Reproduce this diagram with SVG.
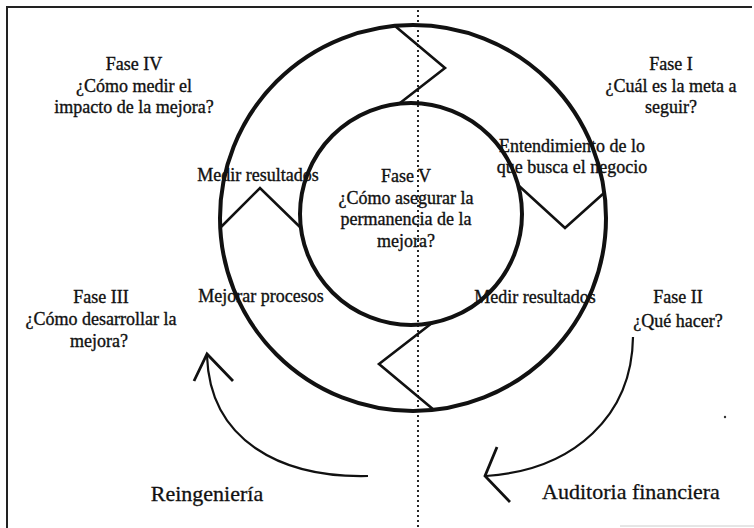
<svg xmlns="http://www.w3.org/2000/svg" width="754" height="528" viewBox="0 0 754 528">
<style>
  text { font-family: "Liberation Serif", "Times New Roman", serif; fill: #111; stroke: #111; stroke-width: 0.35; text-anchor: middle; }
  .t { font-size: 18px; }
  .h { font-weight: bold; stroke-width: 0; }
  .big { font-size: 22px; stroke-width: 0.3; }
  .ring { fill: none; stroke: #111; stroke-width: 4; }
  .zig { fill: none; stroke: #111; stroke-width: 2.6; stroke-linejoin: miter; }
  .arr { fill: none; stroke: #111; stroke-width: 2.2; }
  .head { fill: none; stroke: #111; stroke-width: 2.8; stroke-linejoin: miter; }
</style>
<rect width="754" height="528" fill="#fff"/>
<g id="frame">
  <path d="M7,528 V7 H752" fill="none" stroke="#222" stroke-width="2"/>
  <line x1="620" y1="526" x2="754" y2="526" stroke="#ccc" stroke-width="1"/>
</g>
<g id="divider">
  <line x1="418" y1="10" x2="418" y2="528" stroke="#111" stroke-width="1.8" stroke-dasharray="2 3"/>
</g>
<g id="ring-outer"><circle class="ring" cx="413" cy="218" r="193"/></g>
<g id="ring-inner"><circle class="ring" cx="411" cy="214" r="111"/></g>
<g id="connectors">
  <polyline class="zig" points="395,26 445,68 400,103"/>
  <polyline class="zig" points="518,185 565,228 604,193"/>
  <polyline class="zig" points="432,323 379,364 434,410"/>
  <polyline class="zig" points="220,228 260,188 301,228"/>
  <path class="arr" d="M368,476 C280,478 210,440 207,356"/>
  <polyline class="head" points="194,381 207,354 233,381"/>
  <path class="arr" d="M633,337 C632,415 575,470 486,476"/>
  <polyline class="head" points="497,447 485,476 510,502"/>
</g>
<g id="fase-iv">
  <text class="t" x="134" y="70">Fase IV</text>
  <text class="t" x="134" y="92">¿Cómo medir el</text>
  <text class="t" x="134" y="113">impacto de la mejora?</text>
</g>
<g id="fase-i">
  <text class="t" x="671" y="70">Fase I</text>
  <text class="t" x="671" y="92">¿Cuál es la meta a</text>
  <text class="t" x="671" y="113">seguir?</text>
</g>
<g id="entendimiento">
  <text class="t" x="572" y="152">Entendimiento de lo</text>
  <text class="t" x="572" y="173">que busca el negocio</text>
</g>
<g id="medir-izq">
  <text class="t" x="258" y="181">Medir resultados</text>
</g>
<g id="fase-v">
  <text class="t" x="406" y="182">Fase V</text>
  <text class="t" x="406" y="204">¿Cómo asegurar la</text>
  <text class="t" x="406" y="225">permanencia de la</text>
  <text class="t" x="406" y="247">mejora?</text>
</g>
<g id="fase-iii">
  <text class="t" x="101" y="303">Fase III</text>
  <text class="t" x="101" y="325">¿Cómo desarrollar la</text>
  <text class="t" x="99" y="347">mejora?</text>
</g>
<g id="mejorar">
  <text class="t" x="261" y="302">Mejorar procesos</text>
</g>
<g id="medir-der">
  <text class="t" x="535" y="303">Medir resultados</text>
</g>
<g id="fase-ii">
  <text class="t" x="678" y="303">Fase II</text>
  <text class="t" x="678" y="327">¿Qué hacer?</text>
</g>
<g id="reingenieria">
  <text class="big" x="207" y="501">Reingeniería</text>
</g>
<g id="auditoria">
  <text class="big" x="631" y="499">Auditoria financiera</text>
</g>
<circle cx="725" cy="417" r="1.2" fill="#333"/>
</svg>
